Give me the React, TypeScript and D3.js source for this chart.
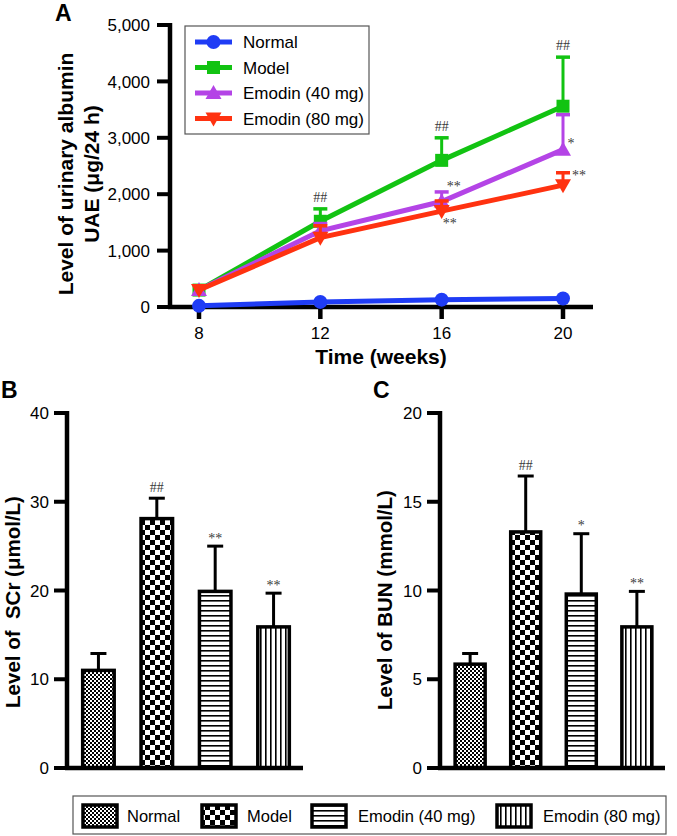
import React from "react";
import * as d3 from "d3";

// ---------- DATA ----------
const weeks = [8, 12, 16, 20];
const seriesNames = ["Normal", "Model", "Emodin (40 mg)", "Emodin (80 mg)"];
const normalUAE = [20, 90, 130, 150];
const normalErr = [0, 0, 0, 0];
const modelUAE = [300, 1520, 2600, 3560];
const modelErr = [0, 220, 400, 870];
const emodin40UAE = [300, 1350, 1870, 2790];
const emodin40Err = [0, 130, 170, 620];
const emodin80UAE = [300, 1230, 1700, 2160];
const emodin80Err = [0, 210, 180, 220];
const modelSig = ["", "##", "##", "##"];
const emodin40Sig = ["", "", "**", "*"];
const emodin80Sig = ["", "", "**", "**"];
const uaeTicks = [0, 1000, 2000, 3000, 4000, 5000];

const groups = ["Normal", "Model", "Emodin (40 mg)", "Emodin (80 mg)"];
const scrValues = [11.0, 28.1, 19.9, 15.9];
const scrErr = [1.9, 2.3, 5.1, 3.8];
const scrSig = ["", "##", "**", "**"];
const scrTicks = [0, 10, 20, 30, 40];
const bunValues = [5.85, 13.3, 9.8, 7.95];
const bunErr = [0.6, 3.15, 3.4, 2.0];
const bunSig = ["", "##", "*", "**"];
const bunTicks = [0, 5, 10, 15, 20];

const colors = ["#1f3cf5", "#12c312", "#b444e6", "#ff3210"];
const patterns = ["pNormal", "pModel", "pH", "pV"];

const SANS = "Arial, 'Liberation Sans', Helvetica, sans-serif";
const SERIF = "'Times New Roman', 'Liberation Serif', serif";
const SIG_SIZE = 14;
const sigShift = (s: string) => (s.startsWith("#") ? 0.35 * SIG_SIZE : 0.55 * SIG_SIZE);

function Marker({ kind, x, y, color }: { kind: number; x: number; y: number; color: string }) {
  if (kind === 0) return <circle cx={x} cy={y} r={7} fill={color} />;
  if (kind === 1) return <rect x={x - 6.5} y={y - 6.5} width={13} height={13} fill={color} />;
  if (kind === 2) {
    const p = d3.path();
    p.moveTo(x, y - 8); p.lineTo(x + 8, y + 6); p.lineTo(x - 8, y + 6); p.closePath();
    return <path d={p.toString()} fill={color} />;
  }
  const p = d3.path();
  p.moveTo(x, y + 8); p.lineTo(x + 8, y - 6); p.lineTo(x - 8, y - 6); p.closePath();
  return <path d={p.toString()} fill={color} />;
}

function SigText({ x, cy, s }: { x: number; cy: number; s: string }) {
  return (
    <text x={x} y={cy + sigShift(s)} textAnchor="middle" fontFamily={SERIF} fontSize={SIG_SIZE} fill="#3a3a3a">{s}</text>
  );
}

function PanelA() {
  const x = d3.scaleLinear().domain([8, 20]).range([199, 563]);
  const y = d3.scaleLinear().domain([0, 5000]).range([307, 25]);
  const data = [
    { v: normalUAE, e: normalErr, s: ["", "", "", ""] },
    { v: modelUAE, e: modelErr, s: modelSig },
    { v: emodin40UAE, e: emodin40Err, s: emodin40Sig },
    { v: emodin80UAE, e: emodin80Err, s: emodin80Sig },
  ];
  const line = d3.line<number>().x((_, i) => x(weeks[i])).y((d) => y(d));
  const fmt = d3.format(",");
  const sigOffset = (si: number, i: number) => {
    if (si === 1) return { dx: 0, dy: -12, ref: "cap" };
    if (si === 2) return i === 3 ? { dx: 8, dy: -9, ref: "pt" } : { dx: 12, dy: -9, ref: "cap" };
    return i === 3 ? { dx: 16, dy: 0, ref: "cap" } : { dx: 8, dy: 9, ref: "pt" };
  };
  return (
    <g>
      <text x={55} y={21} fontFamily={SANS} fontWeight="bold" fontSize={23}>A</text>
      <g transform={`translate(73,174) rotate(-90)`}>
        <text textAnchor="middle" fontFamily={SANS} fontWeight="bold" fontSize={21}>Level of urinary albumin</text>
        <text y={26} textAnchor="middle" fontFamily={SANS} fontWeight="bold" fontSize={21}>UAE (μg/24 h)</text>
      </g>
      <line x1={170} x2={170} y1={y(5000) - 2} y2={y(0) + 2} stroke="#000" strokeWidth={4.5} />
      <line x1={168} x2={593} y1={y(0)} y2={y(0)} stroke="#000" strokeWidth={4.5} />
      {uaeTicks.map((t) => (
        <g key={t}>
          <line x1={157} x2={170} y1={y(t)} y2={y(t)} stroke="#000" strokeWidth={4} />
          <text x={150} y={y(t)} dy="0.36em" textAnchor="end" fontFamily={SANS} fontSize={17}>{fmt(t)}</text>
        </g>
      ))}
      {weeks.map((w) => (
        <g key={w}>
          <line x1={x(w)} x2={x(w)} y1={y(0)} y2={y(0) + 12} stroke="#000" strokeWidth={4.5} />
          <text x={x(w)} y={339} textAnchor="middle" fontFamily={SANS} fontSize={17}>{w}</text>
        </g>
      ))}
      <text x={381} y={364} textAnchor="middle" fontFamily={SANS} fontWeight="bold" fontSize={21}>Time (weeks)</text>
      {data.map((d, si) => (
        <g key={si}>
          {d.v.map((v, i) =>
            d.e[i] > 0 ? (
              <g key={i}>
                <line x1={x(weeks[i])} x2={x(weeks[i])} y1={y(v)} y2={y(v + d.e[i])} stroke={colors[si]} strokeWidth={3} />
                <line x1={x(weeks[i]) - 7} x2={x(weeks[i]) + 7} y1={y(v + d.e[i])} y2={y(v + d.e[i])} stroke={colors[si]} strokeWidth={3.5} />
              </g>
            ) : null
          )}
          <path d={line(d.v) || ""} fill="none" stroke={colors[si]} strokeWidth={5} />
          {d.v.map((v, i) => <Marker key={i} kind={si} x={x(weeks[i])} y={y(v)} color={colors[si]} />)}
        </g>
      ))}
      {data.map((d, si) =>
        d.s.map((s, i) => {
          if (!s) return null;
          const o = sigOffset(si, i);
          const base = o.ref === "cap" ? y(d.v[i] + d.e[i]) : y(d.v[i]);
          return <SigText key={`${si}-${i}`} x={x(weeks[i]) + o.dx} cy={base + o.dy} s={s} />;
        })
      )}
      <rect x={185} y={26} width={184} height={108} fill="#fff" stroke="#555" strokeWidth={1.2} />
      {seriesNames.map((n, i) => (
        <g key={n}>
          <line x1={195} x2={232} y1={42 + i * 25.5} y2={42 + i * 25.5} stroke={colors[i]} strokeWidth={5} />
          <Marker kind={i} x={213.5} y={42 + i * 25.5} color={colors[i]} />
          <text x={243} y={42 + i * 25.5} dy="0.36em" fontFamily={SANS} fontSize={17}>{n}</text>
        </g>
      ))}
    </g>
  );
}

function BarPanel({ letter, title, values, errs, sigs, ticks, xAxis, xEnd, letterX, titleX, titleY, maxV }: any) {
  const y = d3.scaleLinear().domain([0, maxV]).range([768, 413]);
  const xb = d3.scaleBand().domain(groups).range([xAxis + 4, xEnd - 2]).paddingInner(0.46).paddingOuter(0.2);
  const bw = xb.bandwidth();
  return (
    <g>
      <text x={letterX} y={398} fontFamily={SANS} fontWeight="bold" fontSize={23}>{letter}</text>
      <text transform={`translate(${titleX},${titleY}) rotate(-90)`} textAnchor="middle" fontFamily={SANS} fontWeight="bold" fontSize={20.5} style={{ whiteSpace: "pre" }}>{title}</text>
      {groups.map((g, i) => {
        const cx = (xb(g) as number) + bw / 2;
        const top = y(values[i] + errs[i]);
        return (
          <g key={g}>
            <line x1={cx} x2={cx} y1={y(values[i])} y2={top} stroke="#000" strokeWidth={3} />
            <line x1={cx - 8} x2={cx + 8} y1={top} y2={top} stroke="#000" strokeWidth={3} />
            <rect x={xb(g)} y={y(values[i])} width={bw} height={y(0) - y(values[i])} fill={`url(#${patterns[i]})`} stroke="#000" strokeWidth={3.5} />
            {sigs[i] ? <SigText x={cx} cy={top - 11} s={sigs[i]} /> : null}
          </g>
        );
      })}
      <line x1={xAxis} x2={xAxis} y1={411} y2={770} stroke="#000" strokeWidth={4.5} />
      <line x1={xAxis - 2} x2={xEnd} y1={768} y2={768} stroke="#000" strokeWidth={4.5} />
      {ticks.map((t: number) => (
        <g key={t}>
          <line x1={xAxis - 13} x2={xAxis} y1={y(t)} y2={y(t)} stroke="#000" strokeWidth={4} />
          <text x={xAxis - 18} y={y(t)} dy="0.36em" textAnchor="end" fontFamily={SANS} fontSize={17}>{t}</text>
        </g>
      ))}
    </g>
  );
}

export default function App() {
  const legendX = [83, 202, 312, 497];
  const legendTextX = [127, 247, 358, 543];
  return (
    <svg width={677} height={836} style={{ position: "absolute", left: 0, top: 0, background: "#fff" }}>
      <defs>
        <pattern id="pNormal" patternUnits="userSpaceOnUse" width={4} height={4}>
          <rect width={4} height={4} fill="#fff" />
          <rect width={2} height={2} fill="#000" />
          <rect x={2} y={2} width={2} height={2} fill="#000" />
        </pattern>
        <pattern id="pModel" patternUnits="userSpaceOnUse" width={10} height={10}>
          <rect width={10} height={10} fill="#fff" />
          <rect width={5} height={5} fill="#000" />
          <rect x={5} y={5} width={5} height={5} fill="#000" />
        </pattern>
        <pattern id="pH" patternUnits="userSpaceOnUse" width={5} height={5}>
          <rect width={5} height={5} fill="#fff" />
          <rect y={0} width={5} height={1.6} fill="#000" />
        </pattern>
        <pattern id="pV" patternUnits="userSpaceOnUse" width={5} height={5}>
          <rect width={5} height={5} fill="#fff" />
          <rect x={0} width={1.6} height={5} fill="#000" />
        </pattern>
      </defs>
      <rect width={677} height={836} fill="#fff" />
      <PanelA />
      <BarPanel letter="B" title="Level of  SCr (μmol/L)" values={scrValues} errs={scrErr} sigs={scrSig} ticks={scrTicks} xAxis={67} xEnd={303} letterX={1} titleX={20} titleY={602} maxV={40} />
      <BarPanel letter="C" title="Level of BUN (mmol/L)" values={bunValues} errs={bunErr} sigs={bunSig} ticks={bunTicks} xAxis={440} xEnd={665} letterX={373} titleX={392} titleY={600} maxV={20} />
      <rect x={73} y={796} width={593} height={38} fill="#fff" stroke="#555" strokeWidth={1.2} />
      {groups.map((g, i) => (
        <g key={g}>
          <rect x={legendX[i]} y={805} width={34} height={22} fill={`url(#${patterns[i]})`} stroke="#000" strokeWidth={3.5} />
          <text x={legendTextX[i]} y={816} dy="0.36em" fontFamily={SANS} fontSize={16.5}>{g}</text>
        </g>
      ))}
    </svg>
  );
}
